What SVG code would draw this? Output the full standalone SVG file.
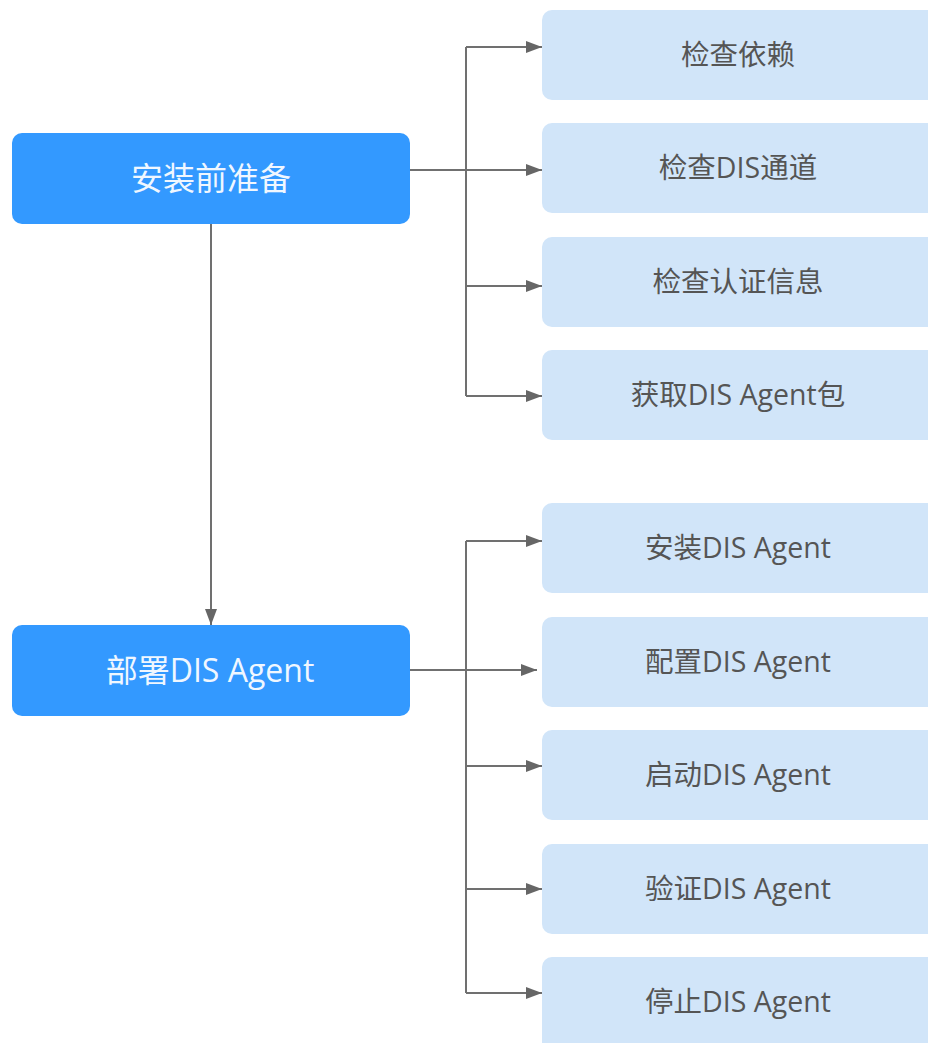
<svg xmlns="http://www.w3.org/2000/svg" width="928" height="1043" viewBox="0 0 928 1043">
<defs>
<marker id="ah" markerWidth="16" markerHeight="12" refX="16" refY="6" orient="auto" markerUnits="userSpaceOnUse">
<path d="M0,0 L16,6 L0,12 Z" fill="#666"/>
</marker>
<style>
.main{fill:#3399ff}
.sub{fill:#d1e5f9}
.mt{font-family:"Open Sans","Noto Sans CJK SC",sans-serif;font-size:32px;fill:#f0f7ff;text-anchor:middle;dominant-baseline:central}
.st{font-family:"Open Sans","Noto Sans CJK SC",sans-serif;font-size:28.5px;fill:#555;text-anchor:middle;dominant-baseline:central}
.ln{stroke:#707070;stroke-width:2;fill:none}
</style>
</defs>
<rect width="928" height="1043" fill="#fff"/>
<g id="connectors">
<path class="ln" d="M466,47 V396"/>
<path class="ln" d="M466,47 H542" marker-end="url(#ah)"/>
<path class="ln" d="M410,170 H542" marker-end="url(#ah)"/>
<path class="ln" d="M466,286 H542" marker-end="url(#ah)"/>
<path class="ln" d="M466,396 H542" marker-end="url(#ah)"/>
<path class="ln" d="M211,224 V625" marker-end="url(#ah)"/>
<path class="ln" d="M466,541 V993"/>
<path class="ln" d="M466,541 H542" marker-end="url(#ah)"/>
<path class="ln" d="M410,670 H537" marker-end="url(#ah)"/>
<path class="ln" d="M466,766 H542" marker-end="url(#ah)"/>
<path class="ln" d="M466,889 H542" marker-end="url(#ah)"/>
<path class="ln" d="M466,993 H542" marker-end="url(#ah)"/>
</g>
<g id="n-prep"><rect class="main" x="12" y="133" width="398" height="91" rx="10"/><text class="mt" x="211" y="177">安装前准备</text></g>
<g id="n-deploy"><rect class="main" x="12" y="625" width="398" height="91" rx="10"/><text class="mt" x="210" y="669">部署DIS Agent</text></g>
<g id="n1"><rect class="sub" x="542" y="10" width="400" height="90" rx="10"/><text class="st" x="738" y="54">检查依赖</text></g>
<g id="n2"><rect class="sub" x="542" y="123" width="400" height="90" rx="10"/><text class="st" x="738" y="167">检查DIS通道</text></g>
<g id="n3"><rect class="sub" x="542" y="237" width="400" height="90" rx="10"/><text class="st" x="738" y="281">检查认证信息</text></g>
<g id="n4"><rect class="sub" x="542" y="350" width="400" height="90" rx="10"/><text class="st" x="738" y="394">获取DIS Agent包</text></g>
<g id="n5"><rect class="sub" x="542" y="503" width="400" height="90" rx="10"/><text class="st" x="738" y="547">安装DIS Agent</text></g>
<g id="n6"><rect class="sub" x="542" y="617" width="400" height="90" rx="10"/><text class="st" x="738" y="661">配置DIS Agent</text></g>
<g id="n7"><rect class="sub" x="542" y="730" width="400" height="90" rx="10"/><text class="st" x="738" y="774">启动DIS Agent</text></g>
<g id="n8"><rect class="sub" x="542" y="844" width="400" height="90" rx="10"/><text class="st" x="738" y="888">验证DIS Agent</text></g>
<g id="n9"><rect class="sub" x="542" y="957" width="400" height="100" rx="10"/><text class="st" x="738" y="1001">停止DIS Agent</text></g>
</svg>
